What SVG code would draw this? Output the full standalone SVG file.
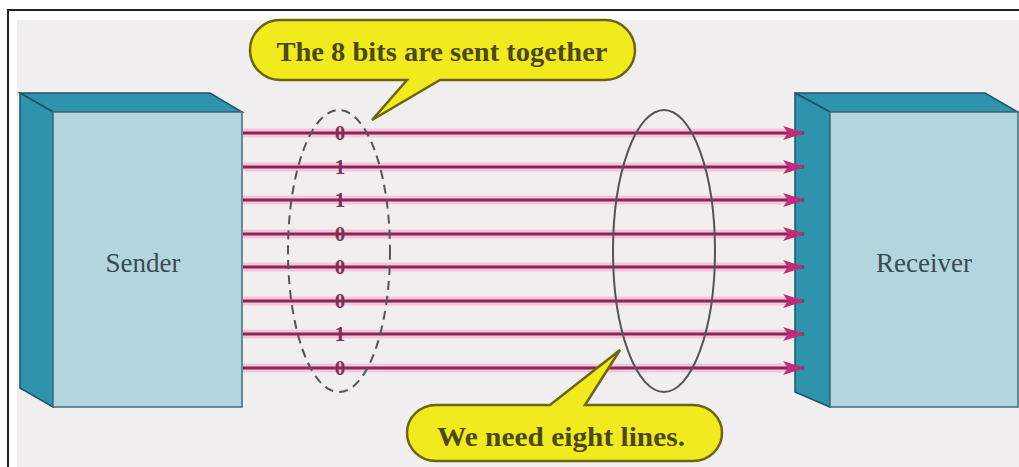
<svg xmlns="http://www.w3.org/2000/svg" width="1019" height="467" viewBox="0 0 1019 467">
<style>
.face{fill:#b3d6de;stroke:#3d6f7c;stroke-width:1.5}
.side{fill:#2f93ad;stroke:#1d5566;stroke-width:1.5}
.lbl{font-family:"Liberation Serif",serif;font-size:27px;fill:#3b4a50;text-anchor:middle}
.glow{stroke:#f8c3dd;stroke-width:9;fill:none}
.wire{stroke:#85294f;stroke-width:3;fill:none}
.bit{font-family:"Liberation Serif",serif;font-size:21px;font-weight:bold;fill:#7a3355;text-anchor:middle}
.call{fill:#f1ea1c;stroke:#6d6412;stroke-width:2.5}
.ctext{font-family:"Liberation Serif",serif;font-size:28px;font-weight:bold;fill:#4b4814;text-anchor:middle}
</style>
<defs>
<marker id="ah" markerWidth="22" markerHeight="16" refX="21" refY="8" orient="auto" markerUnits="userSpaceOnUse">
<path d="M0,1 L22,8 L0,15 L5,8 Z" fill="#c22a78"/>
</marker>
</defs>
<rect width="1019" height="467" fill="#ffffff"/>
<rect x="17" y="20" width="1002" height="447" fill="#f0eeee"/>
<path d="M8,467 V10 H1019" fill="none" stroke="#222" stroke-width="2"/>

<g id="sender">
<polygon class="side" points="20,93 210,93 242,112 53,112"/>
<polygon class="side" points="20,93 53,112 53,407 20,388"/>
<rect class="face" x="53" y="112" width="189" height="295"/>
<text class="lbl" x="143" y="272">Sender</text>
</g>

<g id="receiver">
<polygon class="side" points="795,93 985,93 1018,112 830,112"/>
<polygon class="side" points="795,93 830,112 830,407 795,392"/>
<rect class="face" x="830" y="112" width="188" height="295"/>
<text class="lbl" x="924" y="272">Receiver</text>
</g>

<g id="connectors">
<g class="glow">
<path d="M243,133H788M243,167H788M243,200H788M243,234H788M243,267H788M243,301H788M243,334H788M243,368H788"/>
</g>
<g class="wire">
<path d="M243,133H804" marker-end="url(#ah)"/>
<path d="M243,167H804" marker-end="url(#ah)"/>
<path d="M243,200H804" marker-end="url(#ah)"/>
<path d="M243,234H804" marker-end="url(#ah)"/>
<path d="M243,267H804" marker-end="url(#ah)"/>
<path d="M243,301H804" marker-end="url(#ah)"/>
<path d="M243,334H804" marker-end="url(#ah)"/>
<path d="M243,368H804" marker-end="url(#ah)"/>
</g>
</g>

<g id="bits">
<ellipse cx="339" cy="251" rx="51" ry="141" fill="none" stroke="#555" stroke-width="2" stroke-dasharray="9,6"/>
<text class="bit" x="340" y="140">0</text>
<text class="bit" x="340" y="174">1</text>
<text class="bit" x="340" y="207">1</text>
<text class="bit" x="340" y="241">0</text>
<text class="bit" x="340" y="274">0</text>
<text class="bit" x="340" y="308">0</text>
<text class="bit" x="340" y="341">1</text>
<text class="bit" x="340" y="375">0</text>
</g>

<g id="lines-group">
<ellipse cx="664" cy="251" rx="51" ry="141" fill="none" stroke="#555" stroke-width="2"/>
</g>

<g id="callout-top">
<path class="call" d="M280,20 H605 A30,30 0 0 1 605,80 H440 L372,120 L407,80 H280 A30,30 0 0 1 280,20 Z"/>
<text class="ctext" x="442" y="61" textLength="331" lengthAdjust="spacingAndGlyphs">The 8 bits are sent together</text>
</g>

<g id="callout-bottom">
<path class="call" d="M436,405 H550 L620,350 L585,405 H693 A29,28 0 0 1 693,461 H436 A29,28 0 0 1 436,405 Z"/>
<text class="ctext" x="561" y="446" textLength="248" lengthAdjust="spacingAndGlyphs">We need eight lines.</text>
</g>
</svg>
